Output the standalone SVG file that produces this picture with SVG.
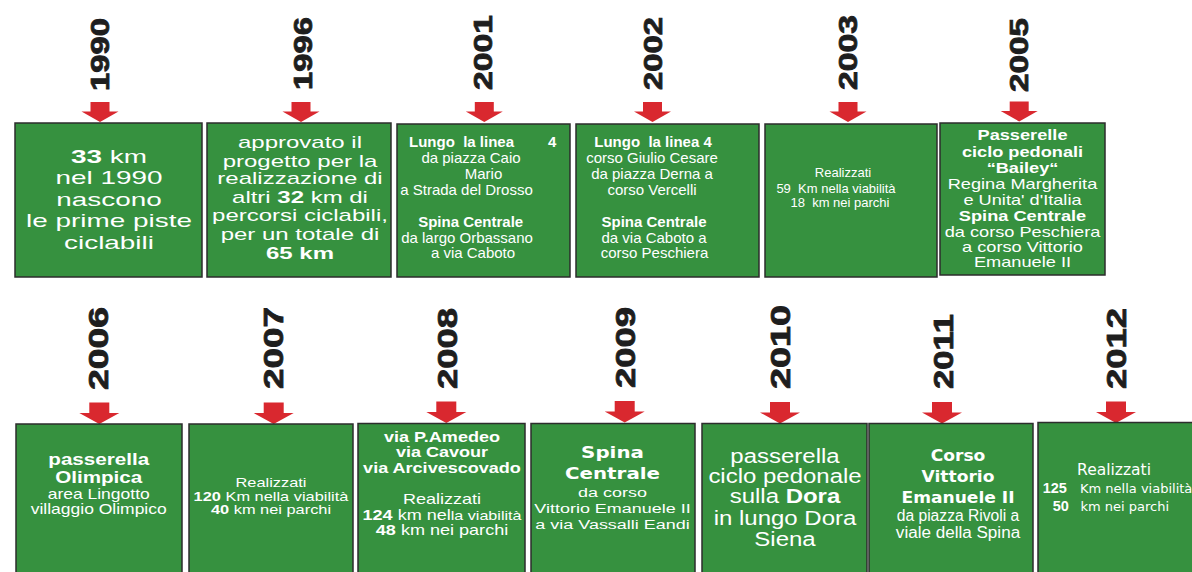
<svg xmlns="http://www.w3.org/2000/svg" xmlns:xlink="http://www.w3.org/1999/xlink" width="1192" height="572" viewBox="0 0 1192 572">
<style>
.box{fill:#36913F;stroke:#2d2d2d;stroke-width:1.5}
.t{font-family:"Liberation Sans",Arial,sans-serif;fill:#ffffff;text-anchor:middle}
.st{text-anchor:start}
.b{font-weight:bold}
.dv{font-family:"DejaVu Sans",Verdana,sans-serif}
.yr{font-family:"Liberation Sans",Arial,sans-serif;font-weight:bold;fill:#1e1e1e;stroke:#1e1e1e;stroke-width:0.8;text-anchor:middle}
.yt{font-size:25px}
.yb{font-size:27px}
.arrow{fill:#D9282F}
</style>
<defs>
<path id="arT" d="M-9.5,-20 h19 v9.5 h9 L0,0 L-18.5,-10.5 h9 z"/>
<path id="arB" d="M-10,-21.5 h20 v10.5 h10 L0,0 L-20,-11 h10 z"/>
</defs>
<rect width="1192" height="572" fill="#ffffff"/>

<g id="connectors" class="arrow">
<use xlink:href="#arT" transform="translate(100,122)"/>
<use xlink:href="#arT" transform="translate(301,122)"/>
<use xlink:href="#arT" transform="translate(484.3,122)"/>
<use xlink:href="#arT" transform="translate(652.5,122)"/>
<use xlink:href="#arT" transform="translate(848,122)"/>
<use xlink:href="#arT" transform="translate(1019.2,121.5)"/>
<use xlink:href="#arB" transform="translate(99.3,424)"/>
<use xlink:href="#arB" transform="translate(273.7,424)"/>
<use xlink:href="#arB" transform="translate(446.3,423)"/>
<use xlink:href="#arB" transform="translate(624.7,422.5)"/>
<use xlink:href="#arB" transform="translate(780,423.5)"/>
<use xlink:href="#arB" transform="translate(942,423.5)"/>
<use xlink:href="#arB" transform="translate(1116,423)"/>
</g>

<g id="n1990">
<text class="yr yt" transform="translate(108.5,54.5) rotate(-90)" textLength="73" lengthAdjust="spacingAndGlyphs">1990</text>
<rect class="box" x="15" y="123" width="187" height="154"/>
<g transform="translate(109,0) scale(1.55,1)" class="t" font-size="18">
<text y="163"><tspan class="b">33</tspan> km</text>
<text y="184.5">nel 1990</text>
<text y="206">nascono</text>
<text y="227.5">le prime piste</text>
<text y="249">ciclabili</text>
</g>
</g>

<g id="n1996">
<text class="yr yt" transform="translate(311.7,53.5) rotate(-90)" textLength="73" lengthAdjust="spacingAndGlyphs">1996</text>
<rect class="box" x="207" y="123" width="184" height="154"/>
<g transform="translate(300,0) scale(1.5,1)" class="t" font-size="16">
<text y="148">approvato il</text>
<text y="166.7">progetto per la</text>
<text y="184.5">realizzazione di</text>
<text y="203">altri <tspan class="b">32</tspan> km di</text>
<text y="221.5">percorsi ciclabili,</text>
<text y="240.5">per un totale di</text>
<text y="259.5" class="b">65 km</text>
</g>
</g>

<g id="n2001">
<text class="yr yt" transform="translate(492,52.5) rotate(-90)" textLength="75" lengthAdjust="spacingAndGlyphs">2001</text>
<rect class="box" x="397" y="124" width="173" height="153"/>
<g class="t" font-size="15">
<text x="409" y="146.7" class="st b">Lungo&#160; la linea</text>
<text x="548" y="146.7" class="st b">4</text>
<text x="471" y="163.3">da piazza Caio</text>
<text x="483.5" y="179">Mario</text>
<text x="466.5" y="195">a Strada del Drosso</text>
<text x="470.7" y="226.7" class="b">Spina Centrale</text>
<text x="467" y="242.7">da largo Orbassano</text>
<text x="473" y="258.3">a via Caboto</text>
</g>
</g>

<g id="n2002">
<text class="yr yt" transform="translate(662,53.5) rotate(-90)" textLength="73" lengthAdjust="spacingAndGlyphs">2002</text>
<rect class="box" x="576" y="124" width="183" height="153"/>
<g class="t" font-size="15">
<text x="653" y="146.7" class="b">Lungo&#160; la linea 4</text>
<text x="652" y="163.3">corso Giulio Cesare</text>
<text x="652" y="179">da piazza Derna a</text>
<text x="652" y="195">corso Vercelli</text>
<text x="654" y="226.7" class="b">Spina Centrale</text>
<text x="654" y="242.7">da via Caboto a</text>
<text x="654.5" y="258.3">corso Peschiera</text>
</g>
</g>

<g id="n2003">
<text class="yr yt" transform="translate(857,52.5) rotate(-90)" textLength="75" lengthAdjust="spacingAndGlyphs">2003</text>
<rect class="box" x="765" y="124" width="172" height="153"/>
<g class="t" font-size="13">
<text x="843" y="176.7">Realizzati</text>
<text x="836" y="192.7">59&#160; Km nella viabilità</text>
<text x="840" y="206.7">18&#160; km nei parchi</text>
</g>
</g>

<g id="n2005">
<text class="yr yt" transform="translate(1028,55) rotate(-90)" textLength="74" lengthAdjust="spacingAndGlyphs">2005</text>
<rect class="box" x="940" y="123" width="165" height="152"/>
<g transform="translate(1022.5,0) scale(1.3,1)" class="t" font-size="14">
<text y="140" class="b">Passerelle</text>
<text y="156.7" class="b">ciclo pedonali</text>
<text y="173.3" class="b">“Bailey“</text>
<text y="189.3">Regina Margherita</text>
<text y="205">e Unita' d'Italia</text>
<text y="221" class="b">Spina Centrale</text>
<text y="236.7">da corso Peschiera</text>
<text y="251.7">a corso Vittorio</text>
<text y="266.7">Emanuele II</text>
</g>
</g>

<g id="n2006">
<text class="yr yb" transform="translate(108,348.5) rotate(-90)" textLength="83" lengthAdjust="spacingAndGlyphs">2006</text>
<rect class="box" x="16" y="424" width="166" height="160"/>
<g transform="translate(98.7,0) scale(1.25,1)" class="t">
<text y="465" class="b" font-size="16.5">passerella</text>
<text y="483.3" class="b" font-size="16.5">Olimpica</text>
<text y="499" font-size="14">area Lingotto</text>
<text y="514" font-size="14">villaggio Olimpico</text>
</g>
</g>

<g id="n2007">
<text class="yr yb" transform="translate(283,348) rotate(-90)" textLength="82" lengthAdjust="spacingAndGlyphs">2007</text>
<rect class="box" x="189" y="424" width="164" height="160"/>
<g transform="translate(271,0) scale(1.3,1)" class="t" font-size="12.6">
<text y="487.3">Realizzati</text>
<text y="500.7"><tspan class="b">120</tspan> Km nella viabilità</text>
<text y="514"><tspan class="b">40</tspan> km nei parchi</text>
</g>
</g>

<g id="n2008">
<text class="yr yb" transform="translate(456.7,348.5) rotate(-90)" textLength="81" lengthAdjust="spacingAndGlyphs">2008</text>
<rect class="box" x="358" y="423.5" width="167" height="160"/>
<g transform="translate(442,0) scale(1.29,1)" class="t" font-size="14">
<text y="441.7" class="b">via P.Amedeo</text>
<text y="457.3" class="b">via Cavour</text>
<text y="473.3" class="b">via Arcivescovado</text>
<text y="504">Realizzati</text>
<text y="520"><tspan class="b">124</tspan> km nel<tspan font-size="12.5">la viabilità</tspan></text>
<text y="535.5"><tspan class="b">48</tspan> km nei parchi</text>
</g>
</g>

<g id="n2009">
<text class="yr yb" transform="translate(635,347.5) rotate(-90)" textLength="81" lengthAdjust="spacingAndGlyphs">2009</text>
<rect class="box" x="531" y="423.5" width="164" height="160"/>
<g transform="translate(612.5,0) scale(1.24,1)" class="t dv b" font-size="16">
<text y="458.3">Spina</text>
<text y="479.3">Centrale</text>
</g>
<g transform="translate(612.5,0) scale(1.33,1)" class="t" font-size="13.5">
<text y="496.7">da corso</text>
<text y="513.3">Vittorio Emanuele II</text>
<text y="529">a via Vassalli Eandi</text>
</g>
</g>

<g id="n2010">
<text class="yr yb" transform="translate(790,347) rotate(-90)" textLength="84" lengthAdjust="spacingAndGlyphs">2010</text>
<rect class="box" x="702" y="423.5" width="165" height="160"/>
<g transform="translate(785,0) scale(1.23,1)" class="t" font-size="19.5">
<text y="462.7">passerella</text>
<text y="482.7">ciclo pedonale</text>
<text y="503.3">sulla <tspan class="b">Dora</tspan></text>
<text y="525">in lungo Dora</text>
<text y="546">Siena</text>
</g>
</g>

<g id="n2011">
<text class="yr yb" transform="translate(952.5,351.5) rotate(-90)" textLength="75" lengthAdjust="spacingAndGlyphs">2011</text>
<rect class="box" x="869" y="423.5" width="164" height="160"/>
<g transform="translate(958,0) scale(1.14,1)" class="t dv b" font-size="15">
<text y="460.7">Corso</text>
<text y="481.7">Vittorio</text>
<text y="502.7">Emanuele II</text>
</g>
<g class="t" font-size="16">
<text x="958" y="520.7" textLength="122.6" lengthAdjust="spacingAndGlyphs">da piazza Rivoli a</text>
<text x="958" y="538.3" textLength="124.3" lengthAdjust="spacingAndGlyphs">viale della Spina</text>
</g>
</g>

<g id="n2012">
<text class="yr yb" transform="translate(1126,348.5) rotate(-90)" textLength="81" lengthAdjust="spacingAndGlyphs">2012</text>
<rect class="box" x="1038" y="422.5" width="170" height="160"/>
<text class="t dv" x="1114" y="475" font-size="15.5">Realizzati</text>
<text class="t st b" x="1042.7" y="493.3" font-size="14.5">125</text>
<text class="t st dv" x="1080" y="493.3" font-size="13">Km nella viabilità</text>
<text class="t st b" x="1052.7" y="510.7" font-size="14.5">50</text>
<text class="t st dv" x="1080.5" y="510.7" font-size="13">km nei parchi</text>
</g>
</svg>
